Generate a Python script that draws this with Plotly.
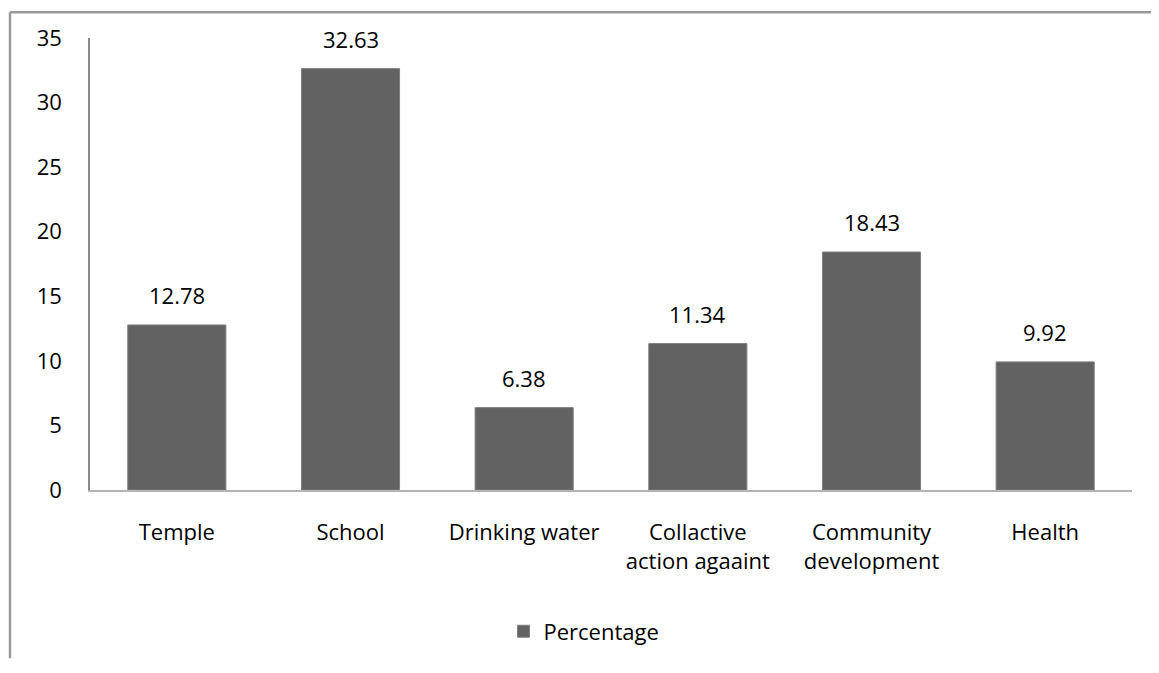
import plotly.graph_objects as go

categories = ['Temple', 'School', 'Drinking water', 'Collactive<br>action agaaint',
              'Community<br>development', 'Health']
percentage = [12.78, 32.63, 6.38, 11.34, 18.43, 9.92]
y_ticks = [0, 5, 10, 15, 20, 25, 30, 35]

# page body has an 8px margin, figure starts at (8, 8) on screen
OFF = 8
W, H = 1159 - 2 * OFF, 673 - 2 * OFF
L, R, T, B = 90 - OFF, 27 - OFF, 38 - OFF, 178 - OFF
pw, ph = W - L - R, H - T - B

def px_x(x):
    return (x - OFF - L) / pw

def px_y(y):
    return (H - B - (y - OFF)) / ph

font = dict(family='Open Sans, Liberation Sans, sans-serif', size=22, color='#000000')

fig = go.Figure(go.Bar(x=categories, y=percentage, name='Percentage',
                       marker=dict(color='#626262', line=dict(color='#808080', width=1)),
                       width=0.565))

for c, v in zip(categories, percentage):
    fig.add_annotation(x=c, y=v, text=f'{v:.2f}', showarrow=False,
                       yanchor='bottom', yshift=13, font=font)

# outer border (top and left edges visible in the original)
border = dict(color='#9a9a9a', width=2.5)
fig.add_shape(type='line', xref='paper', yref='paper', x0=px_x(10), x1=px_x(1151),
              y0=px_y(12), y1=px_y(12), line=border, layer='above')
fig.add_shape(type='line', xref='paper', yref='paper', x0=px_x(10), x1=px_x(10),
              y0=px_y(12), y1=px_y(665), line=border, layer='above')

fig.update_layout(width=W, height=H, margin=dict(l=L, r=R, t=T, b=B),
                  plot_bgcolor='white', paper_bgcolor='white', font=font,
                  showlegend=True,
                  legend=dict(orientation='h', x=px_x(584), xanchor='center',
                              y=px_y(638), yanchor='middle', font=font))
fig.update_xaxes(showline=True, linecolor='#b3b3b3', linewidth=1.5, showgrid=False,
                 ticks='', ticklabelstandoff=22, tickfont=font)
fig.update_yaxes(range=[0, 35], tickvals=y_ticks, showline=True, linecolor='#8a8a8a',
                 linewidth=1.5, showgrid=False, zeroline=False, ticks='',
                 ticklabelstandoff=22, tickfont=font)

fig.write_html('out.html', config={'displayModeBar': False})
